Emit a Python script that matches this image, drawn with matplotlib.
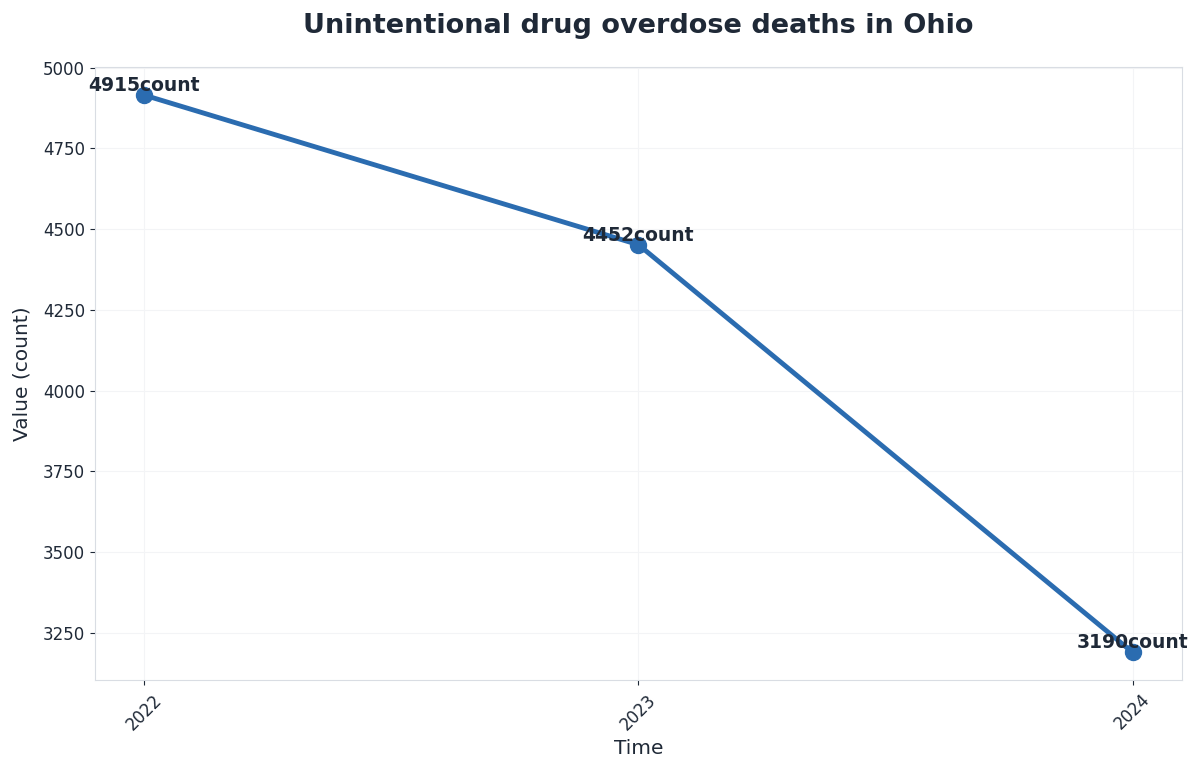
import matplotlib.pyplot as plt

years = ["2022", "2023", "2024"]
deaths = [4915, 4452, 3190]
unit = "count"

TEXT = "#1f2937"
LINE = "#2b6cb0"

fig, ax = plt.subplots(figsize=(12, 7.73), dpi=100)
ax.plot(years, deaths, color=LINE, linewidth=3.5, marker="o", markersize=11.5, zorder=3)

for x, y in zip(years, deaths):
    ax.annotate(f"{y}{unit}", (x, y), xytext=(0, 0), textcoords="offset points",
                ha="center", va="bottom", fontsize=13.5, fontweight="bold", color=TEXT, zorder=4)

ax.set_title("Unintentional drug overdose deaths in Ohio", fontsize=19.5, fontweight="bold",
             color=TEXT, pad=25)
ax.set_xlabel("Time", fontsize=14.5, color=TEXT, labelpad=4)
ax.set_ylabel("Value (count)", fontsize=14.5, color=TEXT, labelpad=8)
ax.tick_params(axis="x", labelrotation=45, labelsize=12, colors=TEXT, pad=4)
ax.tick_params(axis="y", labelsize=12, colors=TEXT)
ax.grid(True, color="#f3f4f6", linewidth=0.8)
ax.set_axisbelow(True)
for s in ax.spines.values():
    s.set_color("#d9dde3")

plt.subplots_adjust(left=0.079, right=0.985, top=0.913, bottom=0.12)
plt.savefig("out.png")
